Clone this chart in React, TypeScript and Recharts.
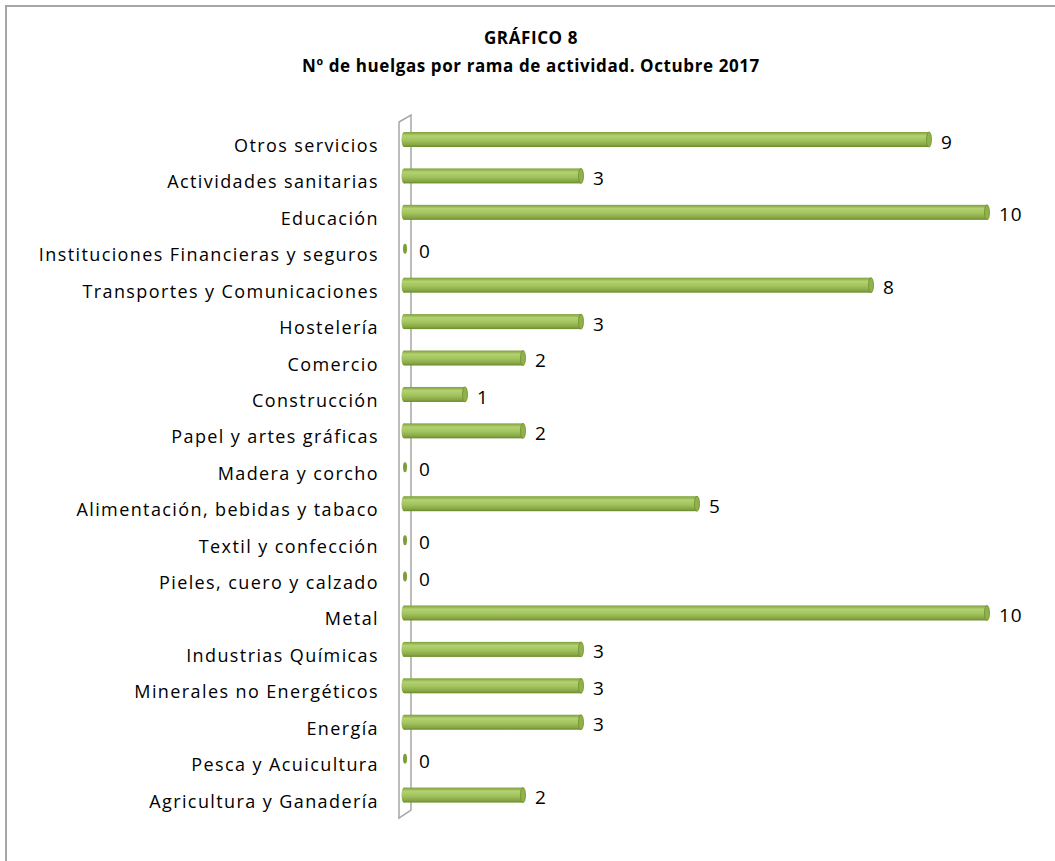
import { BarChart, Bar, XAxis, YAxis, LabelList, ReferenceArea } from 'recharts';

// categories listed top to bottom, as in the chart
const categories = [
  'Otros servicios',
  'Actividades sanitarias',
  'Educación',
  'Instituciones Financieras y seguros',
  'Transportes y Comunicaciones',
  'Hostelería',
  'Comercio',
  'Construcción',
  'Papel y artes gráficas',
  'Madera y corcho',
  'Alimentación, bebidas y tabaco',
  'Textil y confección',
  'Pieles, cuero y calzado',
  'Metal',
  'Industrias Químicas',
  'Minerales no Energéticos',
  'Energía',
  'Pesca y Acuicultura',
  'Agricultura y Ganadería',
];
const huelgas = [9, 3, 10, 0, 8, 3, 2, 1, 2, 0, 5, 0, 0, 10, 3, 3, 3, 0, 2];
const xDomain = [0, 10];

const data = categories.map((name, i) => ({ name, value: huelgas[i] }));

const FONT = '"Open Sans", Carlito, Calibri, sans-serif';

// cylinder-like bar with rounded ends
const CylinderBar = (props: any) => {
  const { x, y, width, height } = props;
  const cy = y + height / 2;
  const ry = height / 2;
  if (!width || width < 1) {
    return <ellipse cx={x - 4} cy={cy} rx={2} ry={5} fill="#7b9e37" />;
  }
  const x0 = x - 5;
  const x1 = x + width - 2;
  return (
    <g>
      <ellipse cx={x0} cy={cy} rx={2.5} ry={ry} fill="url(#cyl)" />
      <rect x={x0} y={y} width={x1 - x0} height={height} fill="url(#cyl)" />
      <ellipse cx={x1} cy={cy} rx={2.5} ry={ry} fill="#8fb24a" stroke="#6f8f2e" strokeWidth={0.8} />
    </g>
  );
};

// 3D side wall at the left of the plot
const Wall = (props: any) => {
  const { x, y, height } = props;
  const fx = x - 10;
  const bx = x + 2;
  const top = y;
  const bottom = y + height;
  return (
    <path
      d={`M${fx},${bottom + 5} L${fx},${top + 1} L${bx},${top - 6} L${bx},${bottom - 3} Z`}
      fill="none"
      stroke="#a6a6a6"
      strokeWidth={1.5}
    />
  );
};

// category labels sit a little below the bar centre, like the original
const CategoryTick = (props: any) => {
  const { x, y, payload } = props;
  return (
    <text
      x={x + 1}
      y={y + 8}
      fill="#000"
      fontSize={18}
      letterSpacing={1.4}
      fontFamily={FONT}
      dominantBaseline="middle"
      textAnchor="end"
    >
      {payload.value}
    </text>
  );
};

const ValueLabel = (props: any) => {
  const { x, y, width, height, value } = props;
  return (
    <text
      x={x + width + 10}
      y={y + height / 2 + 4}
      fill="#000"
      fontSize={19}
      letterSpacing={1}
      fontFamily={FONT}
      dominantBaseline="middle"
      textAnchor="start"
    >
      {value}
    </text>
  );
};

const titleStyle: any = {
  position: 'absolute',
  left: 0,
  width: 1048,
  textAlign: 'center',
  fontWeight: 'bold',
  fontSize: 17,
  letterSpacing: 0.6,
  lineHeight: '24px',
  color: '#000',
};

export default function App() {
  return (
    <div
      style={{
        position: 'absolute',
        left: 5,
        top: 5,
        width: 1048,
        height: 854,
        borderTop: '2px solid #a6a6a6',
        borderLeft: '2px solid #a6a6a6',
        background: '#fff',
        fontFamily: FONT,
      }}
    >
      <div style={{ ...titleStyle, top: 19 }}>GRÁFICO 8</div>
      <div style={{ ...titleStyle, top: 47 }}>Nº de huelgas por rama de actividad. Octubre 2017</div>
      <BarChart
        width={1048}
        height={854}
        data={data}
        layout="vertical"
        margin={{ top: 114, right: 66, bottom: 48, left: 0 }}
        barSize={15}
      >
        <defs>
          <linearGradient id="cyl" x1="0" y1="0" x2="0" y2="1">
            <stop offset="0%" stopColor="#7e9f3b" />
            <stop offset="25%" stopColor="#b3d270" />
            <stop offset="55%" stopColor="#a2c35e" />
            <stop offset="85%" stopColor="#86a744" />
            <stop offset="100%" stopColor="#6a8a2c" />
          </linearGradient>
        </defs>
        <XAxis type="number" domain={xDomain} hide />
        <YAxis
          type="category"
          dataKey="name"
          width={402}
          axisLine={false}
          tickLine={false}
          tickSize={0}
          tickMargin={31}
          interval={0}
          tick={<CategoryTick />}
        />
        <ReferenceArea x1={0} x2={10} ifOverflow="visible" shape={<Wall />} />
        <Bar dataKey="value" shape={<CylinderBar />} isAnimationActive={false}>
          <LabelList dataKey="value" content={<ValueLabel />} />
        </Bar>
      </BarChart>
    </div>
  );
}
